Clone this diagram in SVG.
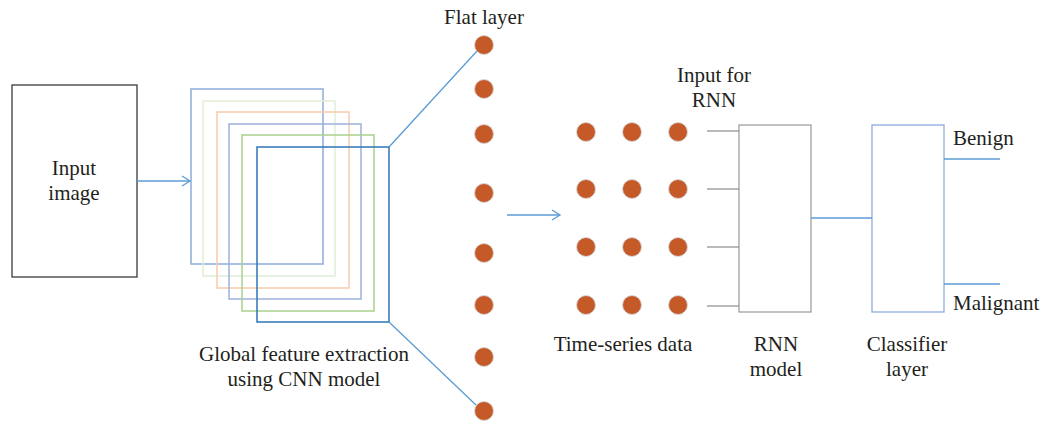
<svg xmlns="http://www.w3.org/2000/svg" width="1046" height="424" viewBox="0 0 1046 424">
<style>
text{font-family:"Liberation Serif","DejaVu Serif",serif;font-size:21px;fill:#231f20;text-anchor:middle}
.dot{fill:#c55a28;stroke:#d9d9d9;stroke-width:1}
.blue{stroke:#5b9bd5;stroke-width:1.3;fill:none}
.grey{stroke:#8c8c8c;stroke-width:1.2;fill:none}
</style>
<defs>
<marker id="ah" markerWidth="12" markerHeight="12" refX="9" refY="6" orient="auto" markerUnits="userSpaceOnUse">
<path d="M1,1 L9,6 L1,11" fill="none" stroke="#5b9bd5" stroke-width="1.3"/>
</marker>
</defs>
<rect width="1046" height="424" fill="#fff"/>
<g id="input-image">
<rect x="12" y="85" width="125" height="192" fill="#fff" stroke="#3a3a3a" stroke-width="1.3"/>
<text x="74" y="175">Input</text>
<text x="74" y="200">image</text>
</g>
<g id="cnn">
<rect x="191" y="89" width="132" height="175" fill="none" stroke="#8faadc" stroke-width="1.5"/>
<rect x="203" y="101" width="132" height="175" fill="none" stroke="#e2eed8" stroke-width="1.5"/>
<rect x="217" y="112" width="132" height="176" fill="none" stroke="#f8cbad" stroke-width="1.5"/>
<rect x="229" y="124" width="132" height="175" fill="none" stroke="#9db1dc" stroke-width="1.5"/>
<rect x="242" y="135" width="132" height="176" fill="none" stroke="#a9d18e" stroke-width="1.5"/>
<rect x="257" y="147" width="132" height="175" fill="none" stroke="#2e75b6" stroke-width="1.5"/>
<text x="304" y="361">Global feature extraction</text>
<text x="304" y="386">using CNN model</text>
</g>
<g id="flat-layer">
<text x="484" y="24">Flat layer</text>
<circle class="dot" cx="484" cy="45" r="9.5"/>
<circle class="dot" cx="484" cy="89" r="9.5"/>
<circle class="dot" cx="484" cy="134" r="9.5"/>
<circle class="dot" cx="484" cy="193" r="9.5"/>
<circle class="dot" cx="484" cy="253" r="9.5"/>
<circle class="dot" cx="484" cy="305" r="9.5"/>
<circle class="dot" cx="484" cy="357" r="9.5"/>
<circle class="dot" cx="484" cy="411" r="9.5"/>
</g>
<g id="time-series">
<text x="714" y="82">Input for</text>
<text x="714" y="107">RNN</text>
<circle class="dot" cx="586" cy="132" r="9.5"/>
<circle class="dot" cx="632" cy="132" r="9.5"/>
<circle class="dot" cx="678" cy="132" r="9.5"/>
<circle class="dot" cx="586" cy="189" r="9.5"/>
<circle class="dot" cx="632" cy="189" r="9.5"/>
<circle class="dot" cx="678" cy="189" r="9.5"/>
<circle class="dot" cx="586" cy="247" r="9.5"/>
<circle class="dot" cx="632" cy="247" r="9.5"/>
<circle class="dot" cx="678" cy="247" r="9.5"/>
<circle class="dot" cx="586" cy="305" r="9.5"/>
<circle class="dot" cx="632" cy="305" r="9.5"/>
<circle class="dot" cx="678" cy="305" r="9.5"/>
<text x="623" y="351">Time-series data</text>
</g>
<g id="rnn">
<rect x="739" y="125" width="72" height="187" fill="none" stroke="#a0a0a0" stroke-width="1.3"/>
<text x="776" y="351">RNN</text>
<text x="776" y="376">model</text>
</g>
<g id="classifier">
<rect x="872" y="125" width="72" height="187" fill="none" stroke="#8faadc" stroke-width="1.3"/>
<text x="907" y="351">Classifier</text>
<text x="907" y="376">layer</text>
</g>
<g id="benign"><text x="953" y="145" style="text-anchor:start">Benign</text></g>
<g id="malignant"><text x="953" y="310" style="text-anchor:start">Malignant</text></g>
<g id="connectors">
<line class="blue" x1="137" y1="181" x2="190" y2="181" marker-end="url(#ah)"/>
<line class="blue" x1="389" y1="147" x2="477" y2="51"/>
<line class="blue" x1="389" y1="322" x2="476" y2="405"/>
<line class="blue" x1="507" y1="215" x2="560" y2="215" marker-end="url(#ah)"/>
<line class="grey" x1="707" y1="131" x2="739" y2="131"/>
<line class="grey" x1="707" y1="189" x2="739" y2="189"/>
<line class="grey" x1="707" y1="247" x2="739" y2="247"/>
<line class="grey" x1="707" y1="306" x2="739" y2="306"/>
<line class="blue" x1="811" y1="218" x2="872" y2="218"/>
<line class="blue" x1="944" y1="159" x2="1000" y2="159"/>
<line class="blue" x1="944" y1="284" x2="1000" y2="284"/>
</g>
</svg>
